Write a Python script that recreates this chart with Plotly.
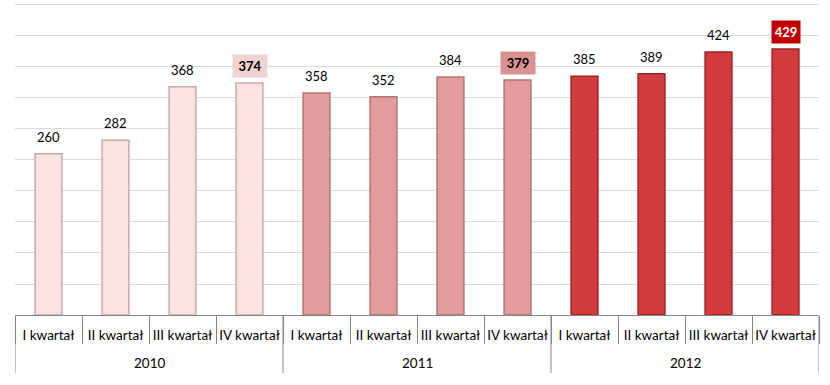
import plotly.graph_objects as go

years = ["2010"] * 4 + ["2011"] * 4 + ["2012"] * 4
quarters = ["I kwartał", "II kwartał", "III kwartał", "IV kwartał"] * 3
values = [260, 282, 368, 374, 358, 352, 384, 379, 385, 389, 424, 429]

year_fill = {"2010": "#FCE2E2", "2011": "#E29C9A", "2012": "#D23C3C"}
year_edge = {"2010": "#C9AAAA", "2011": "#B27474", "2012": "#9C2424"}
box_fill = {"2010": "#F0D2D2", "2011": "#D99292", "2012": "#C00000"}
box_text = {"2010": "#000000", "2011": "#000000", "2012": "#FFFFFF"}

FONT = "Lato, Carlito, Liberation Sans, sans-serif"
AXIS = "#868686"
PLOT_H = 315  # plot-area height in px (385 - t - b)

pos = list(range(len(values)))
year_order = list(dict.fromkeys(years))
groups = {y: [p for p, yy in zip(pos, years) if yy == y] for y in year_order}

fig = go.Figure()
fig.add_trace(go.Bar(
    x=pos,
    y=values,
    width=0.4,
    marker=dict(color=[year_fill[y] for y in years],
                line=dict(color=[year_edge[y] for y in years], width=1.5)),
    hoverinfo="skip",
))

# value labels
for p, yr, q, v in zip(pos, years, quarters, values):
    is_box = q == "IV kwartał"
    fig.add_annotation(
        x=p, y=v, xref="x", yref="y",
        text=f"<b>{v}</b>" if is_box else str(v),
        showarrow=False, yanchor="bottom", yshift=5,
        font=dict(family=FONT, size=13,
                  color=box_text[yr] if is_box else "#000000"),
        bgcolor=box_fill[yr] if is_box else "rgba(0,0,0,0)",
        borderpad=3,
        width=(22 if yr == "2012" else 28) if is_box else None,
    )

# year labels and year dividers
for y in year_order:
    g = groups[y]
    fig.add_annotation(
        x=(g[0] + g[-1]) / 2, y=-48 / PLOT_H, xref="x", yref="paper",
        text=y, showarrow=False, yanchor="middle",
        font=dict(family=FONT, size=13.5, color="#000000"),
    )
bounds = [groups[y][0] - 0.5 for y in year_order] + [groups[year_order[-1]][-1] + 0.5]
for b in bounds:
    fig.add_shape(type="line", xref="x", yref="paper", x0=b, x1=b,
                  y0=0, y1=-58 / PLOT_H, line=dict(color=AXIS, width=1))

fig.update_layout(
    width=830, height=385,
    margin=dict(l=15, r=11, t=0, b=70, autoexpand=False),
    paper_bgcolor="white", plot_bgcolor="white",
    showlegend=False,
    font=dict(family=FONT, size=13, color="#000000"),
)
fig.update_xaxes(
    range=[-0.5, len(values) - 0.5],
    tickmode="array", tickvals=pos, ticktext=quarters,
    ticks="", ticklabelstandoff=8,
    minor=dict(tickmode="array", tickvals=[p - 0.5 for p in pos] + [pos[-1] + 0.5],
               ticks="outside", ticklen=28, tickcolor=AXIS, tickwidth=1, showgrid=False),
    showline=True, linecolor=AXIS, linewidth=1,
    tickfont=dict(family=FONT, size=13.5, color="#000000"),
    showgrid=False, zeroline=False, automargin=False, fixedrange=True,
)
fig.update_yaxes(
    range=[0, 508], dtick=50, showgrid=True, gridcolor="#D9D9D9", gridwidth=1,
    showticklabels=False, zeroline=False, showline=False, automargin=False,
    fixedrange=True,
)

fig.write_html("out.html", post_script="document.body.style.margin='0';",
               config={"displayModeBar": False})
